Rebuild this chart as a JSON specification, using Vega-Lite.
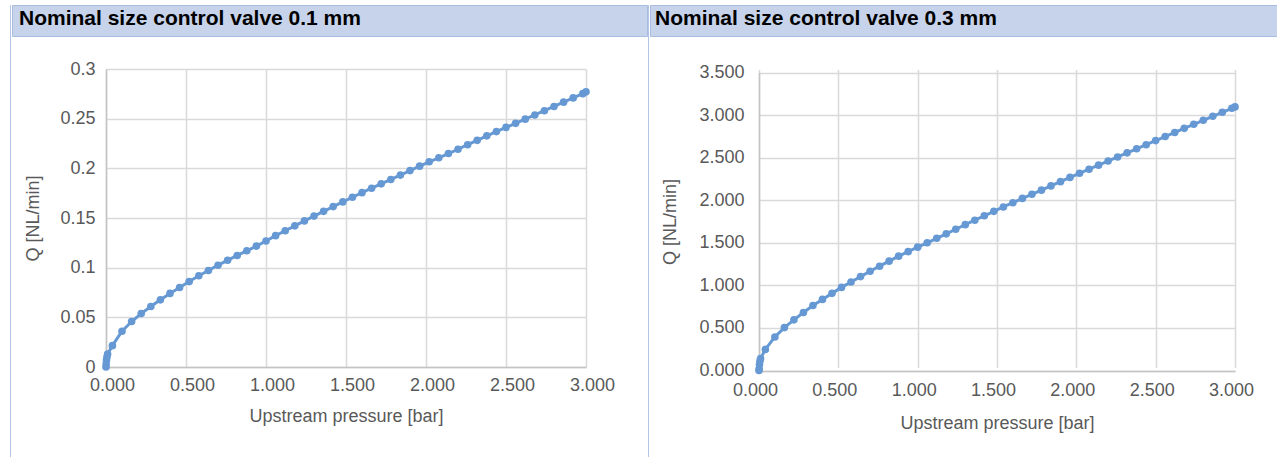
{
  "$schema": "https://vega.github.io/schema/vega-lite/v6.json",
  "background": "#ffffff",
  "padding": {"left": 10, "top": 4, "right": 0, "bottom": 0},
  "config": {
    "view": {"stroke": null},
    "font": "Liberation Sans",
    "axis": {
      "grid": true,
      "gridColor": "#d9d9d9",
      "gridWidth": 1.5,
      "domainColor": "#c4c4c4",
      "domainWidth": 1.5,
      "ticks": false,
      "labelFlush": false,
      "labelFont": "Liberation Sans",
      "labelFontSize": 18,
      "labelColor": "#595959",
      "titleFont": "Liberation Sans",
      "titleFontSize": 18,
      "titleFontWeight": "normal",
      "titleColor": "#595959"
    },
    "axisX": {"labelPadding": 9, "titlePadding": 13},
    "axisY": {"labelPadding": 11, "titlePadding": 17},
    "title": {
      "font": "Liberation Sans",
      "fontSize": 21,
      "fontWeight": "bold",
      "color": "#000000",
      "anchor": "start",
      "frame": "group",
      "orient": "top",
      "offset": -24,
      "baseline": "alphabetic",
      "dx": 7
    }
  },
  "datasets": {
    "v01": [
      {"p": 0, "q": 0}, {"p": 0.001, "q": 0.003}, {"p": 0.003, "q": 0.007}, {"p": 0.006, "q": 0.010}, {"p": 0.01, "q": 0.013},
      {"p": 0.04, "q": 0.0215}, {"p": 0.10, "q": 0.0360}, {"p": 0.16, "q": 0.0458}, {"p": 0.22, "q": 0.0538}, {"p": 0.28, "q": 0.0609},
      {"p": 0.34, "q": 0.0676}, {"p": 0.40, "q": 0.0741}, {"p": 0.46, "q": 0.0800}, {"p": 0.52, "q": 0.0860}, {"p": 0.58, "q": 0.0918},
      {"p": 0.64, "q": 0.0972}, {"p": 0.70, "q": 0.1025}, {"p": 0.76, "q": 0.1074}, {"p": 0.82, "q": 0.1123}, {"p": 0.88, "q": 0.1170},
      {"p": 0.94, "q": 0.1217}, {"p": 1.00, "q": 0.1268}, {"p": 1.06, "q": 0.1322}, {"p": 1.12, "q": 0.1372}, {"p": 1.18, "q": 0.1421},
      {"p": 1.24, "q": 0.1471}, {"p": 1.30, "q": 0.1519}, {"p": 1.36, "q": 0.1567}, {"p": 1.42, "q": 0.1615}, {"p": 1.48, "q": 0.1662},
      {"p": 1.54, "q": 0.1709}, {"p": 1.60, "q": 0.1755}, {"p": 1.66, "q": 0.1800}, {"p": 1.72, "q": 0.1844}, {"p": 1.78, "q": 0.1888},
      {"p": 1.84, "q": 0.1932}, {"p": 1.90, "q": 0.1977}, {"p": 1.96, "q": 0.2022}, {"p": 2.02, "q": 0.2066}, {"p": 2.08, "q": 0.2106},
      {"p": 2.14, "q": 0.2149}, {"p": 2.20, "q": 0.2192}, {"p": 2.26, "q": 0.2238}, {"p": 2.32, "q": 0.2282}, {"p": 2.38, "q": 0.2327},
      {"p": 2.44, "q": 0.2370}, {"p": 2.50, "q": 0.2412}, {"p": 2.56, "q": 0.2453}, {"p": 2.62, "q": 0.2495}, {"p": 2.68, "q": 0.2537},
      {"p": 2.74, "q": 0.2580}, {"p": 2.80, "q": 0.2623}, {"p": 2.86, "q": 0.2666}, {"p": 2.92, "q": 0.2709}, {"p": 2.98, "q": 0.2752},
      {"p": 3.00, "q": 0.2770}
    ],
    "v03": [
      {"p": 0, "q": 0}, {"p": 0.001, "q": 0.02}, {"p": 0.003, "q": 0.07}, {"p": 0.006, "q": 0.11}, {"p": 0.01, "q": 0.14},
      {"p": 0.04, "q": 0.248}, {"p": 0.10, "q": 0.394}, {"p": 0.16, "q": 0.504}, {"p": 0.22, "q": 0.595}, {"p": 0.28, "q": 0.681},
      {"p": 0.34, "q": 0.764}, {"p": 0.40, "q": 0.835}, {"p": 0.46, "q": 0.906}, {"p": 0.52, "q": 0.976}, {"p": 0.58, "q": 1.040},
      {"p": 0.64, "q": 1.103}, {"p": 0.70, "q": 1.166}, {"p": 0.76, "q": 1.225}, {"p": 0.82, "q": 1.284}, {"p": 0.88, "q": 1.343},
      {"p": 0.94, "q": 1.396}, {"p": 1.00, "q": 1.449}, {"p": 1.06, "q": 1.500}, {"p": 1.12, "q": 1.553}, {"p": 1.18, "q": 1.605},
      {"p": 1.24, "q": 1.659}, {"p": 1.30, "q": 1.713}, {"p": 1.36, "q": 1.765}, {"p": 1.42, "q": 1.817}, {"p": 1.48, "q": 1.869},
      {"p": 1.54, "q": 1.921}, {"p": 1.60, "q": 1.971}, {"p": 1.66, "q": 2.021}, {"p": 1.72, "q": 2.070}, {"p": 1.78, "q": 2.118},
      {"p": 1.84, "q": 2.168}, {"p": 1.90, "q": 2.218}, {"p": 1.96, "q": 2.268}, {"p": 2.02, "q": 2.316}, {"p": 2.08, "q": 2.364},
      {"p": 2.14, "q": 2.412}, {"p": 2.20, "q": 2.460}, {"p": 2.26, "q": 2.508}, {"p": 2.32, "q": 2.556}, {"p": 2.38, "q": 2.604},
      {"p": 2.44, "q": 2.652}, {"p": 2.50, "q": 2.700}, {"p": 2.56, "q": 2.748}, {"p": 2.62, "q": 2.796}, {"p": 2.68, "q": 2.844},
      {"p": 2.74, "q": 2.892}, {"p": 2.80, "q": 2.939}, {"p": 2.86, "q": 2.986}, {"p": 2.92, "q": 3.033}, {"p": 2.98, "q": 3.080},
      {"p": 3.00, "q": 3.096}
    ]
  },
  "spacing": 0,
  "hconcat": [
    {"width": 1, "height": 453, "view": {"fill": "#b4c6e6"}, "data": {"values": []}, "mark": "point"},
    {
      "bounds": "flush",
      "spacing": 33,
      "vconcat": [
        {
          "width": 635, "height": 31,
          "view": {"fill": "#c6d3ea", "stroke": "#a9bde0"},
          "title": "Nominal size control valve 0.1 mm",
          "data": {"values": []},
          "mark": "point"
        },
        {
          "bounds": "flush",
          "spacing": 0,
          "hconcat": [
            {"width": 94, "height": 298, "data": {"values": []}, "mark": "point"},
            {
              "width": 480, "height": 298,
              "data": {"name": "v01"},
              "mark": {
                "type": "line",
                "color": "#6699d4",
                "strokeWidth": 3,
                "point": {"filled": true, "size": 58, "color": "#6699d4"}
              },
              "encoding": {
                "x": {
                  "field": "p", "type": "quantitative",
                  "scale": {"domain": [0, 3], "nice": false},
                  "axis": {
                    "values": [0, 0.5, 1, 1.5, 2, 2.5, 3],
                    "format": ".3f",
                    "labelOffset": 6,
                    "title": "Upstream pressure [bar]"
                  }
                },
                "y": {
                  "field": "q", "type": "quantitative",
                  "scale": {"domain": [0, 0.3], "nice": false},
                  "axis": {
                    "values": [0, 0.05, 0.1, 0.15, 0.2, 0.25, 0.3],
                    "format": "~g",
                    "title": "Q [NL/min]"
                  }
                }
              }
            }
          ]
        }
      ]
    },
    {"width": 1, "height": 453, "view": {"fill": "#b4c6e6"}, "data": {"values": []}, "mark": "point"},
    {
      "bounds": "flush",
      "spacing": 33,
      "vconcat": [
        {
          "width": 629, "height": 31,
          "view": {"fill": "#c6d3ea", "stroke": "#a9bde0"},
          "title": {"text": "Nominal size control valve 0.3 mm", "dx": 5},
          "data": {"values": []},
          "mark": "point"
        },
        {
          "bounds": "flush",
          "spacing": 0,
          "hconcat": [
            {"width": 109, "height": 298, "data": {"values": []}, "mark": "point"},
            {
              "width": 476, "height": 302,
              "data": {"name": "v03"},
              "mark": {
                "type": "line",
                "color": "#6699d4",
                "strokeWidth": 3,
                "point": {"filled": true, "size": 58, "color": "#6699d4"}
              },
              "encoding": {
                "x": {
                  "field": "p", "type": "quantitative",
                  "scale": {"domain": [0, 3], "nice": false},
                  "axis": {
                    "values": [0, 0.5, 1, 1.5, 2, 2.5, 3],
                    "format": ".3f",
                    "labelOffset": -4,
                    "labelPadding": 10,
                    "titlePadding": 15,
                    "title": "Upstream pressure [bar]"
                  }
                },
                "y": {
                  "field": "q", "type": "quantitative",
                  "scale": {"domain": [0, 3.5], "nice": false, "range": [301.5, 3.5]},
                  "axis": {
                    "values": [0, 0.5, 1, 1.5, 2, 2.5, 3, 3.5],
                    "format": ".3f",
                    "labelPadding": 15,
                    "titlePadding": 19,
                    "title": "Q [NL/min]"
                  }
                }
              }
            }
          ]
        }
      ]
    }
  ]
}
